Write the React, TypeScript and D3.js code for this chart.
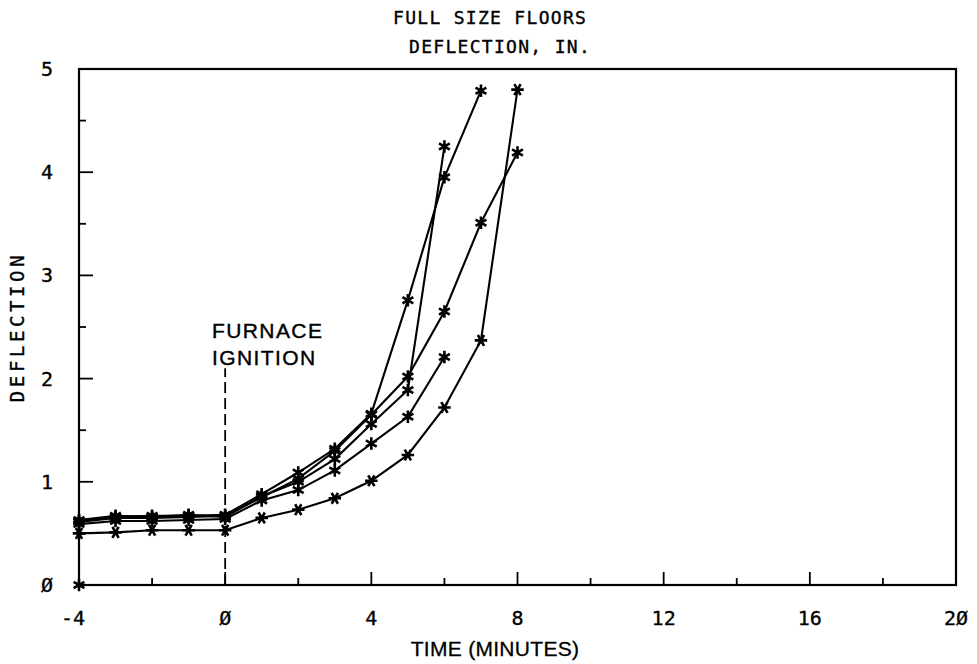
import React from "react";
import * as d3 from "d3";

const titleLines = ["FULL SIZE FLOORS", "DEFLECTION, IN."];
const xTicks = [-4, 0, 4, 8, 12, 16, 20];
const xTickLabels = ["-4", "Ø", "4", "8", "12", "16", "2Ø"];
const yTicks = [0, 1, 2, 3, 4, 5];
const yTickLabels = ["Ø", "1", "2", "3", "4", "5"];
const xMinorTicks = [-2, 2, 6, 10, 14, 18];
const yMinorTicks = [0.5, 1.5, 2.5, 3.5, 4.5];

const seriesA: [number, number][] = [[-4, 0.5], [-3, 0.51], [-2, 0.53], [-1, 0.53], [0, 0.53], [1, 0.65], [2, 0.73], [3, 0.84], [4, 1.01], [5, 1.26], [6, 1.72], [7, 2.37], [8, 4.8]];
const seriesB: [number, number][] = [[-4, 0.59], [-3, 0.62], [-2, 0.62], [-1, 0.63], [0, 0.64], [1, 0.82], [2, 0.92], [3, 1.11], [4, 1.37], [5, 1.63], [6, 2.21]];
const seriesC: [number, number][] = [[-4, 0.61], [-3, 0.65], [-2, 0.65], [-1, 0.66], [0, 0.67], [1, 0.85], [2, 1.03], [3, 1.3], [4, 1.65], [5, 2.02], [6, 2.65], [7, 3.51], [8, 4.19]];
const seriesD: [number, number][] = [[-4, 0.62], [-3, 0.66], [-2, 0.67], [-1, 0.67], [0, 0.68], [1, 0.88], [2, 1.09], [3, 1.32], [4, 1.66], [5, 2.76], [6, 3.95], [7, 4.79]];
const seriesE: [number, number][] = [[-4, 0.63], [-3, 0.67], [-2, 0.66], [-1, 0.68], [0, 0.66], [1, 0.86], [2, 1.0], [3, 1.22], [4, 1.56], [5, 1.89], [6, 4.25]];
const extraPoints: [number, number][] = [[-4, 0]];
const allSeries = [seriesA, seriesB, seriesC, seriesD, seriesE];

const ignitionTime = 0;
const ignitionTop = 2.1;

export default function App() {
  const width = 977;
  const height = 664;
  const x = d3.scaleLinear().domain([-4, 20]).range([79, 956]);
  const y = d3.scaleLinear().domain([0, 5]).range([585, 69]);
  const line = d3.line<[number, number]>().x((d) => x(d[0])).y((d) => y(d[1]));
  const star = d3.symbol().type(d3.symbolAsterisk).size(110)() as string;
  const mono = "'DejaVu Sans Mono', monospace";
  const sans = "'Liberation Sans', Arial, sans-serif";
  const txt = { fill: "#000", stroke: "#000", strokeWidth: 0.35 };

  return (
    <svg width={width} height={height} style={{ position: "absolute", left: 0, top: 0, background: "#fff" }}>
      <rect x={0} y={0} width={width} height={height} fill="#fff" />
      {/* title */}
      <text x={393} y={24} fontFamily={mono} fontSize={18} letterSpacing={1.3} {...txt}>{titleLines[0]}</text>
      <text x={409} y={53} fontFamily={mono} fontSize={18} letterSpacing={1.3} {...txt}>{titleLines[1]}</text>

      {/* frame */}
      <rect x={x(-4)} y={y(5)} width={x(20) - x(-4)} height={y(0) - y(5)} fill="none" stroke="#000" strokeWidth={2.2} />

      {/* ticks */}
      {xTicks.map((t) => (
        <line key={"xt" + t} x1={x(t)} x2={x(t)} y1={y(0)} y2={y(0) - 13} stroke="#000" strokeWidth={1.8} />
      ))}
      {xMinorTicks.map((t) => (
        <line key={"xm" + t} x1={x(t)} x2={x(t)} y1={y(0)} y2={y(0) - 7} stroke="#000" strokeWidth={1.8} />
      ))}
      {yTicks.map((t) => (
        <line key={"yt" + t} x1={x(-4)} x2={x(-4) + 14} y1={y(t)} y2={y(t)} stroke="#000" strokeWidth={1.8} />
      ))}
      {yMinorTicks.map((t) => (
        <line key={"ym" + t} x1={x(-4)} x2={x(-4) + 7} y1={y(t)} y2={y(t)} stroke="#000" strokeWidth={1.8} />
      ))}

      {/* tick labels */}
      {xTicks.map((t, i) => (
        <text key={"xl" + t} x={x(t) - (i === 0 ? 6 : 0)} y={625} textAnchor="middle" fontFamily={mono} fontSize={20} {...txt}>{xTickLabels[i]}</text>
      ))}
      {yTicks.map((t, i) => (
        <text key={"yl" + t} x={53} y={y(t) + 7} textAnchor="end" fontFamily={mono} fontSize={20} {...txt}>{yTickLabels[i]}</text>
      ))}

      {/* axis titles */}
      <text x={495} y={656} textAnchor="middle" fontFamily={sans} fontSize={21} letterSpacing={0.3} {...txt} strokeWidth={0.3}>TIME (MINUTES)</text>
      <text transform={`translate(24,327) rotate(-90)`} textAnchor="middle" fontFamily={mono} fontSize={19} letterSpacing={3.6} {...txt}>DEFLECTION</text>

      {/* furnace ignition */}
      <line x1={x(ignitionTime)} x2={x(ignitionTime)} y1={y(0)} y2={y(ignitionTop)} stroke="#000" strokeWidth={1.8} strokeDasharray="11 5" />
      <text x={212} y={338} fontFamily={sans} fontSize={21} letterSpacing={1.4} {...txt} strokeWidth={0.4}>FURNACE</text>
      <text x={212} y={365} fontFamily={sans} fontSize={21} letterSpacing={1.4} {...txt} strokeWidth={0.4}>IGNITION</text>

      {/* series */}
      {allSeries.map((s, i) => (
        <path key={"s" + i} d={line(s) as string} fill="none" stroke="#000" strokeWidth={2.1} />
      ))}
      {allSeries.map((s, i) =>
        s.map((p, j) => (
          <path key={`m${i}-${j}`} d={star} transform={`translate(${x(p[0])},${y(p[1])})${i === 0 ? " rotate(90)" : ""}`} fill="none" stroke="#000" strokeWidth={2.6} />
        ))
      )}
      {extraPoints.map((p, j) => (
        <path key={"e" + j} d={star} transform={`translate(${x(p[0])},${y(p[1])})`} fill="none" stroke="#000" strokeWidth={2.6} />
      ))}
    </svg>
  );
}
